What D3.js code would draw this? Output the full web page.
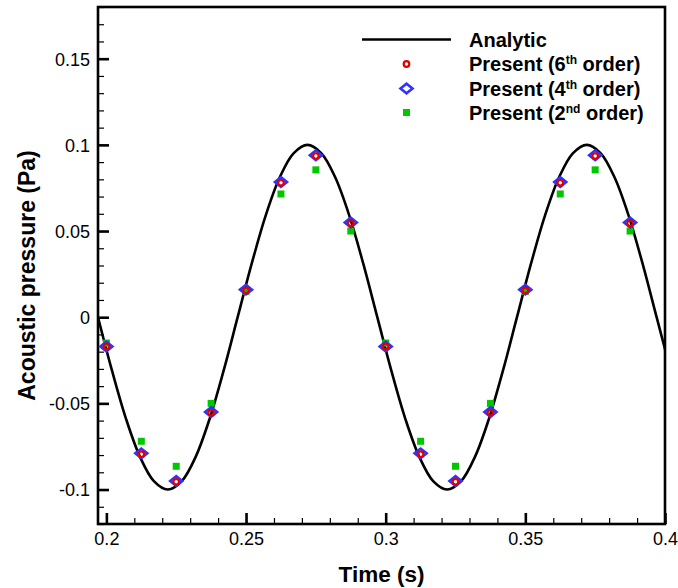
<!DOCTYPE html>
<html>
<head>
<meta charset="utf-8">
<script src="https://cdn.jsdelivr.net/npm/d3@7"></script>
<style>
  html, body { margin: 0; padding: 0; background: #fff; }
  svg { display: block; font-family: "Liberation Sans", Arial, Helvetica, sans-serif; }
</style>
</head>
<body>
<svg id="chart" width="678" height="588"></svg>
<script>
// ---- Data ----
const analyticTime = [0.197,0.202,0.207,0.212,0.217,0.222,0.227,0.232,0.237,0.242,
  0.247,0.252,0.257,0.262,0.267,0.272,0.277,0.282,0.287,0.292,
  0.297,0.302,0.307,0.312,0.317,0.322,0.327,0.332,0.337,0.342,
  0.347,0.352,0.357,0.362,0.367,0.372,0.377,0.382,0.387,0.392,
  0.397,0.402];
const analyticPressure = [0,-0.0309,-0.0588,-0.0809,-0.0951,-0.1,-0.0951,-0.0809,-0.0588,-0.0309,
  0,0.0309,0.0588,0.0809,0.0951,0.1,0.0951,0.0809,0.0588,0.0309,
  0,-0.0309,-0.0588,-0.0809,-0.0951,-0.1,-0.0951,-0.0809,-0.0588,-0.0309,
  0,0.0309,0.0588,0.0809,0.0951,0.1,0.0951,0.0809,0.0588,0.0309,
  0,-0.0309];

const sampleTime = [0.2,0.2125,0.225,0.2375,0.25,0.2625,0.275,0.2875,
  0.3,0.3125,0.325,0.3375,0.35,0.3625,0.375,0.3875];
const order6 = [-0.017,-0.0795,-0.0955,-0.0555,0.0155,0.078,0.0935,0.0545,
  -0.017,-0.0795,-0.0955,-0.0555,0.0155,0.078,0.0935,0.0545];
const order4 = [-0.017,-0.079,-0.095,-0.055,0.016,0.0785,0.094,0.055,
  -0.017,-0.079,-0.095,-0.055,0.016,0.0785,0.094,0.055];
const order2 = [-0.015,-0.072,-0.0865,-0.050,0.015,0.0715,0.0855,0.050,
  -0.015,-0.072,-0.0865,-0.050,0.015,0.0715,0.0855,0.050];

const xTicks = [0.2,0.25,0.3,0.35,0.4];
const xTickLabels = ["0.2","0.25","0.3","0.35","0.4"];
const yTicks = [-0.1,-0.05,0,0.05,0.1,0.15];
const yTickLabels = ["-0.1","-0.05","0","0.05","0.1","0.15"];
const xMinorTicks = d3.range(20,41).map(d => d/100);
const yMinorTicks = d3.range(-12,19).map(d => d/100);

const legendLabels = [
  {main:"Analytic"},
  {pre:"Present (6", sup:"th", post:" order)"},
  {pre:"Present (4", sup:"th", post:" order)"},
  {pre:"Present (2", sup:"nd", post:" order)"}
];

// ---- Layout ----
const L = 98, R = 665, T = 7, B = 524;
const svg = d3.select("#chart");
const x = d3.scaleLinear().domain([0.197, 0.4]).range([L, R]);
const y = d3.scaleLinear().domain([-0.12, 0.18]).range([B, T]);

svg.append("defs").append("clipPath").attr("id","clip")
  .append("rect").attr("x",L).attr("y",T).attr("width",R-L).attr("height",B-T);

// minor ticks (inward)
const xAxisMinor = d3.axisBottom(x).tickValues(xMinorTicks).tickSize(-6).tickFormat("");
svg.append("g").attr("transform",`translate(0,${B})`).call(xAxisMinor)
  .call(g => g.select(".domain").remove())
  .call(g => g.selectAll("line").attr("stroke","#000").attr("stroke-width",1.2));
const yAxisMinor = d3.axisLeft(y).tickValues(yMinorTicks).tickSize(-6).tickFormat("");
svg.append("g").attr("transform",`translate(${L},0)`).call(yAxisMinor)
  .call(g => g.select(".domain").remove())
  .call(g => g.selectAll("line").attr("stroke","#000").attr("stroke-width",1.2));

// major ticks
const xAxis = d3.axisBottom(x).tickValues(xTicks).tickSize(-11).tickPadding(0)
  .tickFormat((d,i) => xTickLabels[i]);
svg.append("g").attr("transform",`translate(0,${B})`).call(xAxis)
  .call(g => g.select(".domain").remove())
  .call(g => g.selectAll("line").attr("stroke","#000").attr("stroke-width",2.6))
  .call(g => g.selectAll("text").attr("y",21).attr("dy","0").attr("font-size",18)
    .attr("fill","#000").attr("font-family","Liberation Sans, Arial, sans-serif"));
const yAxis = d3.axisLeft(y).tickValues(yTicks).tickSize(-11).tickPadding(0)
  .tickFormat((d,i) => yTickLabels[i]);
svg.append("g").attr("transform",`translate(${L},0)`).call(yAxis)
  .call(g => g.select(".domain").remove())
  .call(g => g.selectAll("line").attr("stroke","#000").attr("stroke-width",2.6))
  .call(g => g.selectAll("text").attr("x",-8).attr("dy","0.35em").attr("font-size",18)
    .attr("fill","#000").attr("font-family","Liberation Sans, Arial, sans-serif"));

// frame
svg.append("rect").attr("x",L).attr("y",T).attr("width",R-L).attr("height",B-T)
  .attr("fill","none").attr("stroke","#000").attr("stroke-width",2.6);

// analytic line
const line = d3.line().x((d,i) => x(analyticTime[i])).y(d => y(d)).curve(d3.curveCatmullRom);
const plot = svg.append("g").attr("clip-path","url(#clip)");
plot.append("path").datum(analyticPressure).attr("d",line)
  .attr("fill","none").attr("stroke","#000").attr("stroke-width",2.6);

const diamond = "M-6,0L0,-4.8L6,0L0,4.8Z";
// 2nd order squares
plot.selectAll("rect.o2").data(order2).join("rect").attr("class","o2")
  .attr("x",(d,i) => x(sampleTime[i]) - 3.5).attr("y",d => y(d) - 3.5)
  .attr("width",7).attr("height",7).attr("fill","#00c800");
// 4th order diamonds
plot.selectAll("path.o4").data(order4).join("path").attr("class","o4")
  .attr("d",diamond).attr("transform",(d,i) => `translate(${x(sampleTime[i])},${y(d)})`)
  .attr("fill","none").attr("stroke","#3030ff").attr("stroke-width",2.6);
// 6th order circles
plot.selectAll("circle.o6").data(order6).join("circle").attr("class","o6")
  .attr("cx",(d,i) => x(sampleTime[i])).attr("cy",d => y(d)).attr("r",2.8)
  .attr("fill","none").attr("stroke","#e00000").attr("stroke-width",2.2);

// legend
const lg = svg.append("g");
const rowY = [39.5, 64, 88.5, 112.5];
const markX = 406.5, textX = 469;
lg.append("line").attr("x1",362).attr("x2",451).attr("y1",rowY[0]).attr("y2",rowY[0])
  .attr("stroke","#000").attr("stroke-width",2.6);
lg.append("circle").attr("cx",markX).attr("cy",rowY[1]).attr("r",2.8)
  .attr("fill","none").attr("stroke","#e00000").attr("stroke-width",2.2);
lg.append("path").attr("d",diamond).attr("transform",`translate(${markX},${rowY[2]})`)
  .attr("fill","none").attr("stroke","#3030ff").attr("stroke-width",2.6);
lg.append("rect").attr("x",markX-3.5).attr("y",rowY[3]-3.5).attr("width",7).attr("height",7)
  .attr("fill","#00c800");
legendLabels.forEach((lab,i) => {
  const t = lg.append("text").attr("x",textX).attr("y",rowY[i]).attr("dy","0.36em")
    .attr("font-size",20).attr("font-weight","bold").attr("fill","#000");
  if (lab.main) { t.text(lab.main); return; }
  t.append("tspan").text(lab.pre);
  t.append("tspan").attr("dy",-7).attr("font-size",12).text(lab.sup);
  t.append("tspan").attr("dy",7).text(lab.post);
});

// axis titles
svg.append("text").attr("x",(L+R)/2).attr("y",582).attr("text-anchor","middle")
  .attr("font-size",22.5).attr("font-weight","bold").attr("fill","#000").text("Time (s)");
svg.append("text").attr("transform",`translate(35,${(T+B)/2+10}) rotate(-90)`)
  .attr("text-anchor","middle").attr("font-size",23).attr("font-weight","bold")
  .attr("fill","#000").text("Acoustic pressure (Pa)");
</script>
</body>
</html>
